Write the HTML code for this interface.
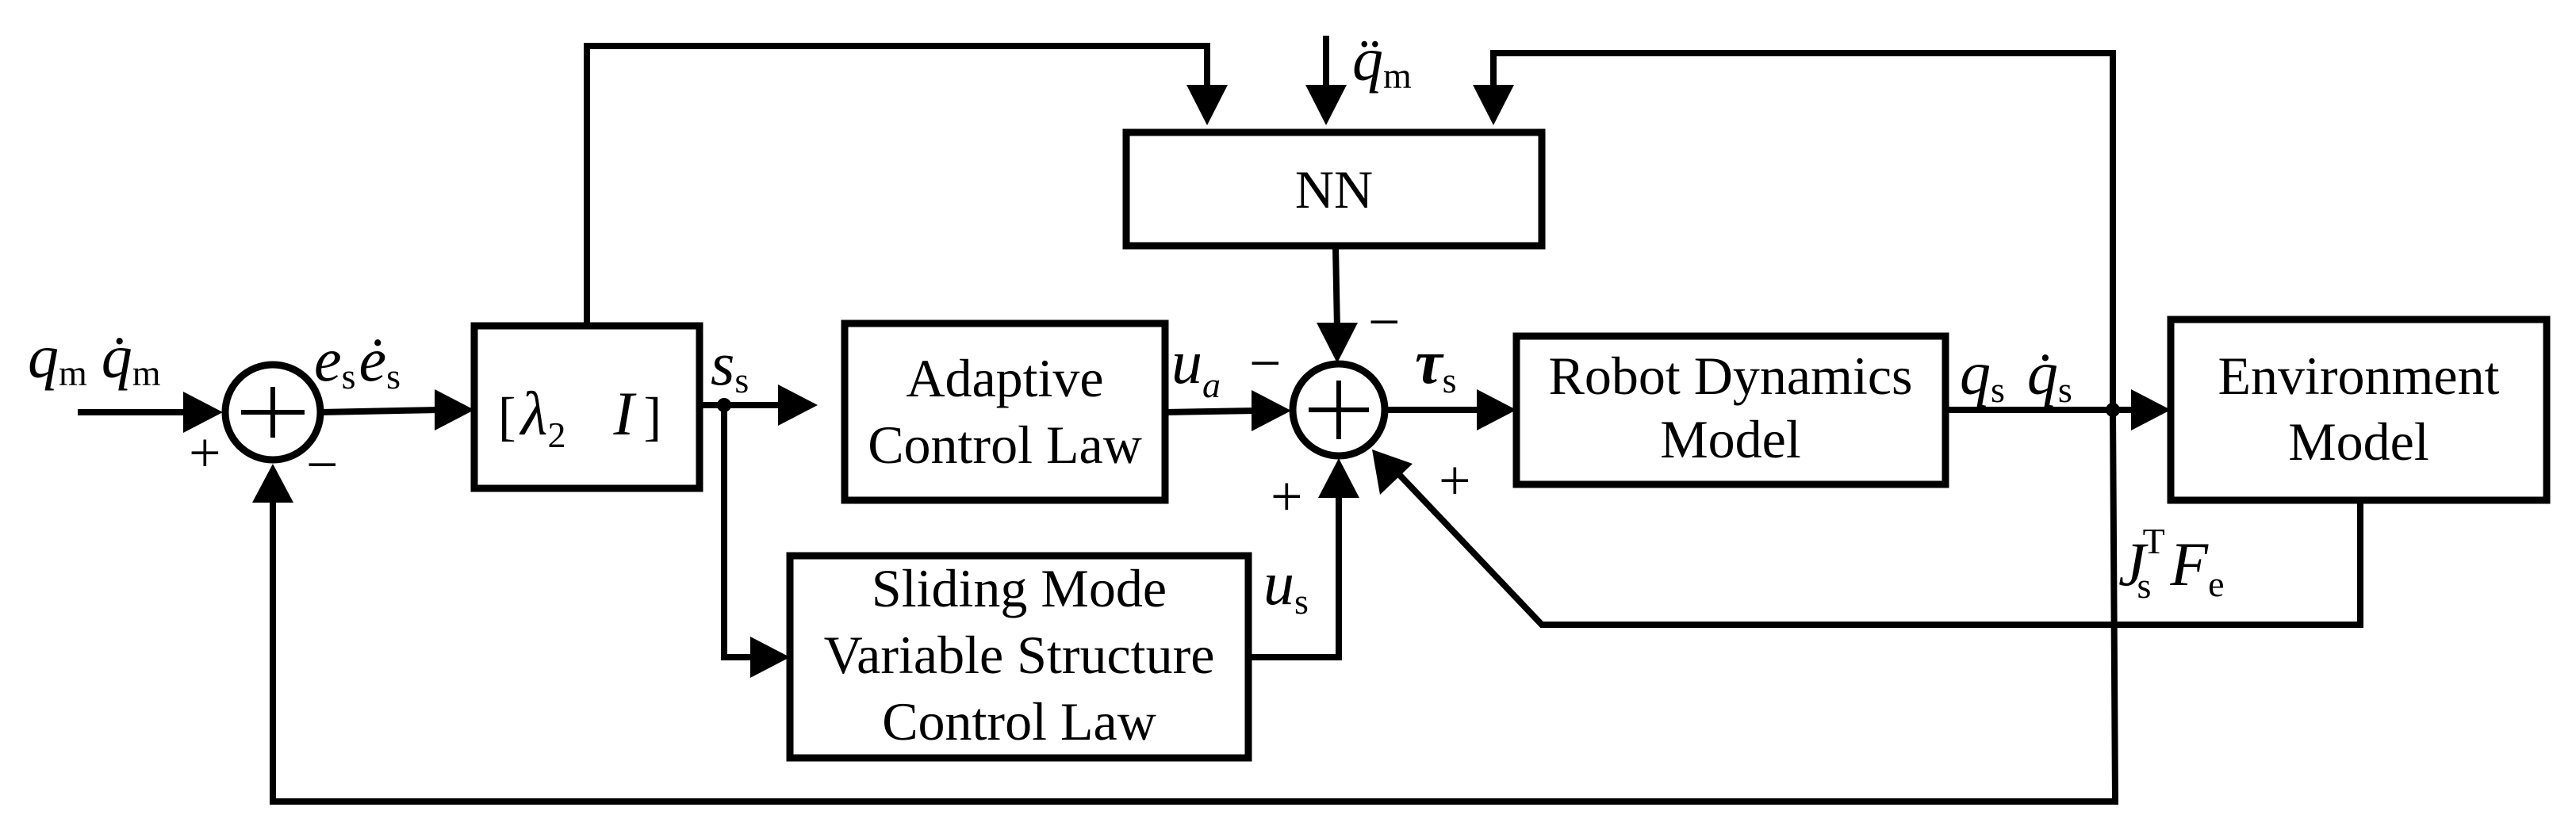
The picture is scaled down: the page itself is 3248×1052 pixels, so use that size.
<!DOCTYPE html>
<html><head><meta charset="utf-8"><style>
html,body{margin:0;padding:0;background:#fff;}
svg{display:block;}
text{font-family:"Liberation Serif","Times New Roman","DejaVu Serif",serif;fill:#000;font-size:68px;}
.i{font-style:italic;font-size:78px;}
.s{font-size:46px;font-style:normal;}
.si{font-size:46px;font-style:italic;}
.pm{font-size:72px;}
</style></head><body>
<svg width="3248" height="1052" viewBox="0 0 3248 1052" xmlns="http://www.w3.org/2000/svg" font-family="Liberation Serif, serif">
<g fill="none" stroke="#000" stroke-width="8" stroke-linejoin="miter">
<rect x="598" y="411" width="284" height="205" stroke-width="9"/>
<rect x="1420" y="167" width="524" height="143" stroke-width="9"/>
<rect x="1065" y="408" width="404" height="223" stroke-width="9"/>
<rect x="996" y="701" width="578" height="255" stroke-width="9"/>
<rect x="1912" y="424" width="541" height="187" stroke-width="9"/>
<rect x="2737" y="403" width="474" height="228" stroke-width="9"/>
<circle cx="344" cy="520" r="60" stroke-width="9"/>
<line x1="304" y1="520" x2="384" y2="520" stroke-width="6"/>
<line x1="344" y1="488" x2="344" y2="552" stroke-width="6"/>
<circle cx="1688" cy="517" r="58" stroke-width="9"/>
<line x1="1650" y1="517" x2="1726" y2="517" stroke-width="6"/>
<line x1="1688" y1="480" x2="1688" y2="554" stroke-width="6"/>
<polyline points="98,520 240,520"/>
<polyline points="404,520 555,517"/>
<polyline points="740,411 740,58 1522,58 1522,115"/>
<polyline points="1672,45 1672,115"/>
<polyline points="2664,517 2664,67 1883,67 1883,115"/>
<polyline points="882,511 985,511"/>
<polyline points="913,511 913,829 950,829"/>
<polyline points="1684,310 1686,415"/>
<polyline points="1469,520 1585,518"/>
<polyline points="1746,517 1870,517"/>
<polyline points="1574,829 1688,829 1688,620"/>
<polyline points="2976,631 2976,788 1944,788 1758,592"/>
<polyline points="2453,517 2695,517"/>
<polyline points="2664,517 2667,1011 344,1011 344,630"/>
</g>
<g fill="#000" stroke="none">
<polygon points="281,520 231,494 231,546"/>
<polygon points="598,517 548,491 548,543"/>
<polygon points="1031,511 981,485 981,537"/>
<polygon points="996,829 946,803 946,855"/>
<polygon points="1522,158 1496,107 1548,107"/>
<polygon points="1672,158 1646,107 1698,107"/>
<polygon points="1883,158 1857,107 1909,107"/>
<polygon points="1686,458 1660,407 1712,407"/>
<polygon points="1628,518 1578,492 1578,544"/>
<polygon points="1912,517 1862,491 1862,543"/>
<polygon points="1688,578 1662,628 1714,628"/>
<polygon points="1730,567 1740,624 1781,585"/>
<polygon points="2737,517 2687,491 2687,543"/>
<polygon points="344,585 318,634 370,634"/>
<circle cx="913" cy="511" r="9"/>
<circle cx="2664" cy="517" r="9"/>
</g>
<text x="35" y="476"><tspan class="i">q</tspan><tspan class="s" dy="10">m</tspan><tspan dy="-10" dx="18" class="i">q̇</tspan><tspan class="s" dy="10">m</tspan></text>
<text x="396" y="480"><tspan class="i">e</tspan><tspan class="s" dy="10">s</tspan><tspan dy="-10" dx="4" class="i">ė</tspan><tspan class="s" dy="10">s</tspan></text>
<text class="pm" x="238" y="595">+</text>
<text class="pm" x="386" y="610">−</text>
<text x="628" y="548" font-size="80">[<tspan class="i" dx="6">λ</tspan><tspan class="s" dy="16">2</tspan><tspan dy="-16" dx="60" class="i">I</tspan><tspan dx="12">]</tspan></text>
<text x="896" y="485"><tspan class="i">s</tspan><tspan class="s" dy="10">s</tspan></text>
<text x="1267" y="500" text-anchor="middle">Adaptive</text>
<text x="1267" y="584" text-anchor="middle">Control Law</text>
<text x="1682" y="262" text-anchor="middle">NN</text>
<text x="1705" y="101"><tspan class="i">q̈</tspan><tspan class="s" dy="10">m</tspan></text>
<text x="1477" y="483"><tspan class="i">u</tspan><tspan class="si" dy="18">a</tspan></text>
<text class="pm" x="1575" y="482">−</text>
<text class="pm" x="1725" y="430">−</text>
<text x="1784" y="483"><tspan class="i" font-weight="bold">τ</tspan><tspan class="s" dy="12">s</tspan></text>
<text class="pm" x="1602" y="650">+</text>
<text class="pm" x="1814" y="630">+</text>
<text x="1285" y="765" text-anchor="middle">Sliding Mode</text>
<text x="1285" y="849" text-anchor="middle">Variable Structure</text>
<text x="1285" y="933" text-anchor="middle">Control Law</text>
<text x="1593" y="762"><tspan class="i">u</tspan><tspan class="s" dy="12">s</tspan></text>
<text x="2182" y="497" text-anchor="middle">Robot Dynamics</text>
<text x="2182" y="577" text-anchor="middle">Model</text>
<text x="2471" y="497"><tspan class="i">q</tspan><tspan class="s" dy="10">s</tspan><tspan dy="-10" dx="28" class="i">q̇</tspan><tspan class="s" dy="10">s</tspan></text>
<text x="2974" y="497" text-anchor="middle">Environment</text>
<text x="2974" y="580" text-anchor="middle">Model</text>
<text x="2671" y="738"><tspan class="i">J</tspan><tspan class="s" dy="-40" dx="-4">T</tspan><tspan class="s" dy="56" dx="-32">s</tspan><tspan class="i" dy="-16" dx="24">F</tspan><tspan class="s" dy="14">e</tspan></text>
</svg>
</body></html>
